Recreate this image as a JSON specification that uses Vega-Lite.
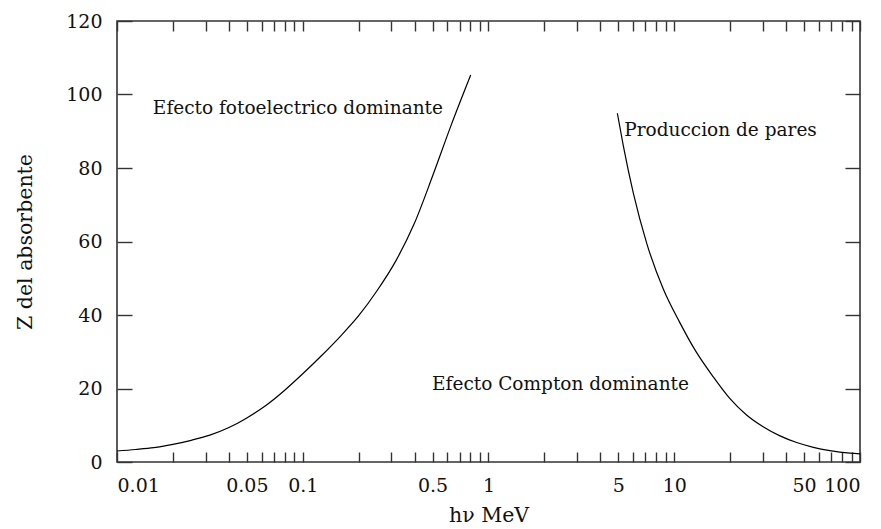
{
  "$schema": "https://vega.github.io/schema/vega-lite/v6.json",
  "width": 743,
  "height": 441,
  "autosize": "none",
  "padding": {"left": 117, "top": 21, "right": 21, "bottom": 67},
  "background": "white",
  "config": {
    "view": {"stroke": "#333333", "strokeWidth": 1.6},
    "font": "DejaVu Serif",
    "axis": {"grid": false, "domain": false, "labelFont": "DejaVu Serif", "titleFont": "DejaVu Serif", "labelColor": "#111", "titleColor": "#111", "tickColor": "#333333", "tickWidth": 1.4, "titleFontWeight": "normal"}
  },
  "datasets": {
    "photo": [
      {"E": 0.01, "Z": 3.0},
      {"E": 0.0126, "Z": 3.4},
      {"E": 0.0158, "Z": 3.9},
      {"E": 0.02, "Z": 4.8},
      {"E": 0.0251, "Z": 5.9},
      {"E": 0.0316, "Z": 7.3},
      {"E": 0.0398, "Z": 9.3},
      {"E": 0.05, "Z": 12.0},
      {"E": 0.063, "Z": 15.3},
      {"E": 0.0794, "Z": 19.4},
      {"E": 0.1, "Z": 24.0},
      {"E": 0.126, "Z": 28.9},
      {"E": 0.158, "Z": 34.0},
      {"E": 0.2, "Z": 39.8},
      {"E": 0.251, "Z": 46.6},
      {"E": 0.316, "Z": 54.6},
      {"E": 0.398, "Z": 64.8},
      {"E": 0.5, "Z": 77.8},
      {"E": 0.631, "Z": 91.8},
      {"E": 0.802, "Z": 105.3}
    ],
    "pair": [
      {"E": 4.94, "Z": 94.9},
      {"E": 5.32, "Z": 86.0},
      {"E": 6.03, "Z": 73.0},
      {"E": 7.11, "Z": 59.5},
      {"E": 8.74, "Z": 47.0},
      {"E": 10.7, "Z": 38.0},
      {"E": 13.0, "Z": 30.3},
      {"E": 16.2, "Z": 23.2},
      {"E": 19.9, "Z": 17.3},
      {"E": 24.5, "Z": 12.8},
      {"E": 30.1, "Z": 9.6},
      {"E": 37.1, "Z": 7.1},
      {"E": 45.6, "Z": 5.3},
      {"E": 56.1, "Z": 4.0},
      {"E": 68.9, "Z": 3.1},
      {"E": 88.3, "Z": 2.4},
      {"E": 100, "Z": 2.2}
    ],
    "labels": [
      {"E": 0.0156, "Z": 94.7, "text": "Efecto fotoelectrico dominante"},
      {"E": 5.38, "Z": 88.7, "text": "Produccion de pares"},
      {"E": 0.497, "Z": 19.5, "text": "Efecto Compton dominante"}
    ]
  },
  "resolve": {"axis": {"x": "independent", "y": "independent"}},
  "layer": [
    {
      "data": {"name": "photo"},
      "mark": {"type": "line", "color": "#000", "strokeWidth": 1.2, "interpolate": "monotone"},
      "encoding": {
        "x": {"field": "E", "type": "quantitative", "scale": {"type": "log", "domain": [0.01, 100]},
          "axis": {"orient": "bottom", "values": [0.01, 0.05, 0.1, 0.5, 1, 5, 10, 50, 100], "format": "~g", "ticks": false, "labelPadding": 14, "labelFontSize": 19, "title": "hν MeV", "titleFontSize": 20.5, "titlePadding": 10}},
        "y": {"field": "Z", "type": "quantitative", "scale": {"domain": [0, 120]},
          "axis": {"orient": "left", "values": [0, 20, 40, 60, 80, 100, 120], "ticks": false, "labelPadding": 15, "labelFontSize": 19, "labelBaseline": "middle", "title": "Z del absorbente", "titleFontSize": 20.5, "titlePadding": 30}}
      }
    },
    {
      "data": {"name": "pair"},
      "mark": {"type": "line", "color": "#000", "strokeWidth": 1.2, "interpolate": "monotone"},
      "encoding": {
        "x": {"field": "E", "type": "quantitative", "scale": {"type": "log", "domain": [0.01, 100]},
          "axis": {"orient": "bottom", "values": [0.01,0.02,0.03,0.04,0.05,0.06,0.07,0.08,0.09,0.1,0.2,0.3,0.4,0.5,0.6,0.7,0.8,0.9,1,2,3,4,5,6,7,8,9,10,20,30,40,50,60,70,80,90,100], "labels": false, "tickSize": -10, "title": null}},
        "y": {"field": "Z", "type": "quantitative", "scale": {"domain": [0, 120]},
          "axis": {"orient": "right", "values": [0, 20, 40, 60, 80, 100, 120], "labels": false, "tickSize": -15, "title": null}}
      }
    },
    {
      "data": {"name": "labels"},
      "mark": {"type": "text", "align": "left", "baseline": "alphabetic", "fontSize": 18.5, "color": "#111"},
      "encoding": {
        "x": {"field": "E", "type": "quantitative", "scale": {"type": "log", "domain": [0.01, 100]},
          "axis": {"orient": "top", "values": [0.01,0.02,0.03,0.04,0.05,0.06,0.07,0.08,0.09,0.1,0.2,0.3,0.4,0.5,0.6,0.7,0.8,0.9,1,2,3,4,5,6,7,8,9,10,20,30,40,50,60,70,80,90,100], "labels": false, "tickSize": -10, "title": null}},
        "y": {"field": "Z", "type": "quantitative", "scale": {"domain": [0, 120]},
          "axis": {"orient": "left", "values": [0, 20, 40, 60, 80, 100, 120], "labels": false, "tickSize": -15, "title": null}},
        "text": {"field": "text"}
      }
    }
  ]
}
